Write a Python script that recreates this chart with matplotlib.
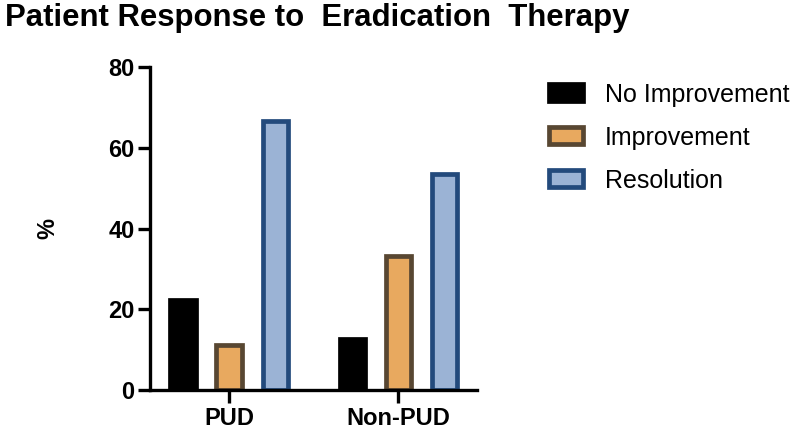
import matplotlib.pyplot as plt
import numpy as np

plt.rcParams['font.family'] = ['Liberation Sans', 'DejaVu Sans']

groups = ["PUD", "Non-PUD"]
series = ["No Improvement", "Improvement", "Resolution"]
no_improvement = [22.2, 12.7]
improvement = [11.1, 33.3]
resolution = [66.7, 53.5]
yticks = [0, 20, 40, 60, 80]

fills = ["#000000", "#e8a95f", "#9bb3d5"]
edges = ["#000000", "#584732", "#234a7c"]

fig = plt.figure(figsize=(8, 4.3), dpi=100)
ax = fig.add_axes([0.1875, 0.093, 0.409, 0.751])

x = np.arange(len(groups))
pitch = 0.272
w = 0.148
for i, (vals, name) in enumerate(zip([no_improvement, improvement, resolution], series)):
    ax.bar(x + (i - 1) * pitch, vals, width=w, color=fills[i], edgecolor=edges[i],
           linewidth=3.4, label=name, zorder=2)

ax.set_xlim(-0.467, 1.467)
ax.set_ylim(0, 80)
ax.set_yticks(yticks)
ax.set_xticks(x)
ax.set_xticklabels(groups)
for s in ["top", "right"]:
    ax.spines[s].set_visible(False)
for s in ["left", "bottom"]:
    ax.spines[s].set_linewidth(2.4)
    ax.spines[s].set_zorder(3)
ax.tick_params(width=2.4, length=9, labelsize=17)
ax.tick_params(axis="y", pad=2)
ax.tick_params(axis="x", pad=3.5)
for lab in ax.get_xticklabels() + ax.get_yticklabels():
    lab.set_fontweight("bold")
ax.set_ylabel("%", fontsize=17, fontweight="bold", labelpad=35)

fig.text(0.006, 0.992, "Patient Response to  Eradication  Therapy", fontsize=22.4,
         fontweight="bold", ha="left", va="top")

leg = fig.legend(loc="upper left", bbox_to_anchor=(0.686, 0.808), frameon=False,
                 fontsize=18, handlelength=1.36, handleheight=0.68, labelspacing=0.76,
                 handletextpad=0.88, borderaxespad=0, borderpad=0)

fig.savefig("out.png", dpi=100)
